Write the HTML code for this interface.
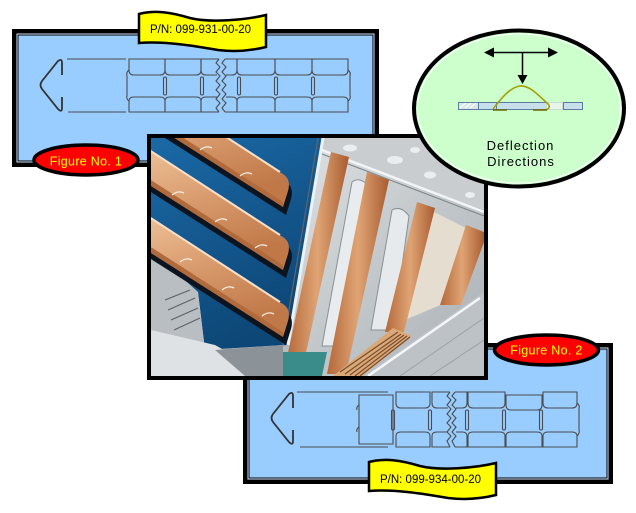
<!DOCTYPE html>
<html><head><meta charset="utf-8">
<style>
html,body{margin:0;padding:0;background:#fff;}
svg{display:block;}
text{font-family:"Liberation Sans",Arial,sans-serif;}
</style></head>
<body>
<svg width="636" height="513" viewBox="0 0 636 513" xmlns="http://www.w3.org/2000/svg">
<defs>
  <linearGradient id="blueg" x1="0" y1="0" x2="0.4" y2="1">
    <stop offset="0" stop-color="#1b69a6"/>
    <stop offset="1" stop-color="#0d4777"/>
  </linearGradient>
  <linearGradient id="silv" x1="0" y1="0" x2="1" y2="1">
    <stop offset="0" stop-color="#dfe3e5"/>
    <stop offset="0.5" stop-color="#c3c8cb"/>
    <stop offset="1" stop-color="#a9b0b4"/>
  </linearGradient>
  <linearGradient id="copS" x1="0" y1="0" x2="0.35" y2="1">
    <stop offset="0" stop-color="#f0c49c"/>
    <stop offset="0.5" stop-color="#d99c6e"/>
    <stop offset="1" stop-color="#c07848"/>
  </linearGradient>
  <linearGradient id="copB" x1="0" y1="0" x2="1" y2="0">
    <stop offset="0" stop-color="#b4683a"/>
    <stop offset="0.5" stop-color="#e0a474"/>
    <stop offset="1" stop-color="#a85c30"/>
  </linearGradient>
  <clipPath id="pc"><rect x="151" y="138" width="333" height="238"/></clipPath>
</defs>

<!-- ========== TOP PANEL ========== -->
<rect x="12" y="29" width="367" height="138" fill="#000"/>
<rect x="16.5" y="33.5" width="358" height="129" fill="#d2e8ff"/>
<rect x="18" y="35" width="355" height="126" fill="#99ccff" stroke="#000" stroke-width="1"/>

<g fill="none" stroke="#4c4c4c" stroke-width="1.1">
  <path d="M62,75 L62,63 Q62,58 58,61 L42,81 Q39,85 42,89 L58,109 Q62,113 62,108 L62,97" stroke="#333" stroke-width="1.8"/>
  <path d="M67,59 H126 M68,112 H126"/>
  <path d="M129,59 H165 V70 Q165,75 160,75 H134 Q129,75 129,70 Z M129,112 H165 V101 Q165,97 160,97 H134 Q129,97 129,101 Z"/>
  <path d="M165,59 H201 V70 Q201,75 196,75 H170 Q165,75 165,70 Z M165,112 H201 V101 Q201,97 196,97 H170 Q165,97 165,101 Z"/>
  <path d="M219,59 H201 V70 Q201,75 206,75 H217 M219,112 H201 V101 Q201,97 206,97 H217"/>
  <path d="M219,59 L216,63 L220,67 L216,72 L220,76 L216,81 L220,85 L216,90 L220,94 L216,99 L220,103 L216,108 L219,112"/>
  <path d="M225,59 L222,63 L226,67 L222,72 L226,76 L222,81 L226,85 L222,90 L226,94 L222,99 L226,103 L222,108 L225,112"/>
  <path d="M225,59 H237 V70 Q237,75 232,75 H226 M225,112 H237 V101 Q237,97 232,97 H226"/>
  <path d="M237,59 H275 V70 Q275,75 270,75 H242 Q237,75 237,70 Z M237,112 H275 V101 Q275,97 270,97 H242 Q237,97 237,101 Z"/>
  <path d="M275,59 H312 V70 Q312,75 307,75 H280 Q275,75 275,70 Z M275,112 H312 V101 Q312,97 307,97 H280 Q275,97 275,101 Z"/>
  <path d="M312,59 H348 V70 Q348,75 343,75 H317 Q312,75 312,70 Z M312,112 H348 V101 Q348,97 343,97 H317 Q312,97 312,101 Z"/>
  <path d="M129,70 Q126,72 127,76 V95 Q126,99 129,101"/>
  <path d="M348,70 Q351,72 350,76 V95 Q351,99 348,101"/>
  <rect x="163.5" y="77" width="3" height="18" rx="1.5"/>
  <rect x="200.5" y="77" width="3" height="18" rx="1.5"/>
  <rect x="237.5" y="77" width="3" height="18" rx="1.5"/>
  <rect x="274.5" y="77" width="3" height="18" rx="1.5"/>
  <rect x="311.5" y="77" width="3" height="18" rx="1.5"/>
</g>

<!-- top banner -->
<path d="M139,14 C155,10 170,12 190,18 C210,23 245,20 266,15 L266,47 C250,51 235,52 218,50 C195,46 165,41 139,43 Z" fill="#ffff00" stroke="#000" stroke-width="2.5"/>
<text x="200.5" y="33" font-size="11.5" text-anchor="middle" fill="#000">P/N: 099-931-00-20</text>

<!-- Figure No. 1 -->
<ellipse cx="86" cy="160" rx="52" ry="15" fill="#ff0000" stroke="#000" stroke-width="3.5"/>
<text x="86" y="165.5" font-size="12.5" text-anchor="middle" fill="#ffff00" letter-spacing="0.3">Figure No. 1</text>

<!-- ========== BOTTOM PANEL ========== -->
<rect x="243" y="343" width="370" height="141" fill="#000"/>
<rect x="247.5" y="347.5" width="361" height="132" fill="#d2e8ff"/>
<rect x="249" y="349" width="358" height="129" fill="#99ccff" stroke="#000" stroke-width="1"/>

<g transform="translate(231,333)" fill="none" stroke="#4c4c4c" stroke-width="1.1">
  <path d="M62,75 L62,63 Q62,58 58,61 L42,81 Q39,85 42,89 L58,109 Q62,113 62,108 L62,97" stroke="#333" stroke-width="1.8"/>
  <path d="M66,59 H157 M69,114 H157"/>
  <path d="M128,62 H162 V111 H128 Z"/>
  <path d="M128,72 Q125,74 126,77 M128,94 Q125,96 126,99"/>
  <path d="M165,59 H199 V70 Q199,75 194,75 H170 Q165,75 165,70 Z M165,114 H199 V103 Q199,99 194,99 H170 Q165,99 165,103 Z"/>
  <path d="M219,59 H201 V70 Q201,75 206,75 H217 M219,114 H201 V103 Q201,99 206,99 H217"/>
  <path d="M219,59 L216,63 L220,67 L216,72 L220,76 L216,81 L220,85 L216,90 L220,94 L216,99 L220,103 L216,108 L219,114"/>
  <path d="M224,59 L221,63 L225,67 L221,72 L225,76 L221,81 L225,85 L221,90 L225,94 L221,99 L225,103 L221,108 L224,114"/>
  <path d="M224,59 H236 V70 Q236,75 231,75 H225 M224,114 H236 V103 Q236,99 231,99 H225"/>
  <path d="M237,59 H274 V70 Q274,75 269,75 H242 Q237,75 237,70 Z M237,114 H274 V103 Q274,99 269,99 H242 Q237,99 237,103 Z"/>
  <path d="M275,62 H311 V72 Q311,77 306,77 H280 Q275,77 275,72 Z M275,114 H311 V103 Q311,99 306,99 H280 Q275,99 275,103 Z"/>
  <path d="M312,59 H346 V70 Q346,75 341,75 H317 Q312,75 312,70 Z M312,114 H346 V103 Q346,99 341,99 H317 Q312,99 312,103 Z"/>
  <path d="M346,70 Q349,72 348,76 V97 Q349,100 346,103"/>
  <rect x="160.5" y="77" width="3" height="20" rx="1.5"/>
  <rect x="197.5" y="77" width="3" height="20" rx="1.5"/>
  <rect x="234.5" y="77" width="3" height="20" rx="1.5"/>
  <rect x="271.5" y="77" width="3" height="20" rx="1.5"/>
  <rect x="308.5" y="77" width="3" height="20" rx="1.5"/>
</g>

<!-- Figure No. 2 -->
<ellipse cx="546.5" cy="350" rx="52" ry="15" fill="#ff0000" stroke="#000" stroke-width="3.5"/>
<text x="546.5" y="354.5" font-size="12.5" text-anchor="middle" fill="#ffff00" letter-spacing="0.3">Figure No. 2</text>

<!-- ========== PHOTO ========== -->
<rect x="147" y="134" width="341" height="246" fill="#000"/>
<g clip-path="url(#pc)">
  <rect x="151" y="138" width="333" height="238" fill="#b4babe"/>
  <polygon points="322,138 484,138 484,376 285,376 290,340" fill="url(#silv)"/>
  <polygon points="322,138 484,138 484,210 380,172 320,150" fill="#c9cdd0"/>
  <g fill="#f4f6f7" opacity="0.8">
    <ellipse cx="350" cy="148" rx="7" ry="3.5"/><ellipse cx="395" cy="160" rx="8" ry="4"/>
    <ellipse cx="430" cy="175" rx="6" ry="3.5"/><ellipse cx="458" cy="168" rx="7" ry="4"/>
    <ellipse cx="470" cy="195" rx="5" ry="3"/><ellipse cx="415" cy="150" rx="5" ry="3"/>
  </g>
  <path d="M322,150 L484,212" stroke="#f2f4f5" stroke-width="2.5"/>
  <path d="M322,154 L484,216" stroke="#7c8488" stroke-width="1"/>
  <path d="M352,182 Q360,176 368,186 L341,346 L322,346 Z" fill="#e8ecee" stroke="#8a9094" stroke-width="1"/>
  <path d="M392,210 Q401,205 409,216 L393,330 L371,330 Z" fill="#e6eaec" stroke="#8a9094" stroke-width="1"/>
  <polygon points="434,212 466,228 445,303 405,320" fill="#e4ddd0"/>
  <polygon points="331,152 349,157 304,362 286,362" fill="url(#copB)"/>
  <polygon points="367,172 389,180 346,374 327,374" fill="url(#copB)"/>
  <polygon points="417,202 435,208 404,332 385,332" fill="url(#copB)"/>
  <polygon points="466,225 484,232 484,242 461,305 440,305" fill="url(#copB)"/>
  <polygon points="362,376 484,292 484,376" fill="#bcc2c6"/>
  <path d="M368,376 L480,298" stroke="#f4f6f7" stroke-width="2.5"/>
  <path d="M400,376 L484,318 M430,376 L484,340" stroke="#9aa2a6" stroke-width="1"/>
  <polygon points="333,376 393,328 412,336 362,376" fill="#d9a978"/>
  <g stroke="#7a4c2c" stroke-width="1.2">
    <path d="M340,372 L398,332 M345,374 L401,334 M350,375 L404,335 M355,376 L407,336 M360,376 L410,337"/>
  </g>
  <polygon points="283,352 327,352 322,376 283,376" fill="#3a8c8a"/>
  <polygon points="151,138 323,138 288,345 205,350 198,292 151,250" fill="url(#blueg)"/>
  <path d="M323,138 L288,345" stroke="#eef1f2" stroke-width="3"/>
  <path d="M318,138 L283,345" stroke="#5e666a" stroke-width="1.2"/>
  <polygon points="151,250 198,292 205,350 283,345 283,376 151,376" fill="#b9bec2"/>
  <polygon points="151,330 215,345 270,376 151,376" fill="#dfe2e4"/>
  <polygon points="215,350 283,345 283,376 245,376" fill="#8c9398"/>
  <g stroke="#5c6266" stroke-width="1.2">
    <path d="M165,300 L190,290 M168,310 L195,298 M171,320 L198,308 M174,330 L200,318"/>
  </g>
  <!-- copper strips -->
  <path d="M143,89 L282,180 Q295,185 291,199 L286,215 L143,124 Z" fill="#0c1420"/>
  <path d="M140,81 L279,172 Q292,177 288,191 L283,207 L140,116 Z" fill="url(#copS)"/>
  <path d="M140,81 L280,172" stroke="#f8e0c8" stroke-width="2"/>
  <path d="M140,110 L283,202 L283,207 L140,116 Z" fill="#b06a3c"/>

  <path d="M143,152 L282,243 Q295,248 291,262 L286,278 L143,187 Z" fill="#0c1420"/>
  <path d="M140,144 L279,235 Q292,240 288,254 L283,270 L140,179 Z" fill="url(#copS)"/>
  <path d="M140,144 L280,235" stroke="#f8e0c8" stroke-width="2"/>
  <path d="M140,173 L283,265 L283,270 L140,179 Z" fill="#b06a3c"/>

  <path d="M143,219 L282,310 Q295,315 291,329 L286,345 L143,254 Z" fill="#0c1420"/>
  <path d="M140,211 L279,302 Q292,307 288,321 L283,337 L140,246 Z" fill="url(#copS)"/>
  <path d="M140,211 L280,302" stroke="#f8e0c8" stroke-width="2"/>
  <path d="M140,240 L283,332 L283,337 L140,246 Z" fill="#b06a3c"/>
  <g fill="none" stroke="#fbeee0" stroke-width="1.3">
    <path d="M200,150 q6,-5 12,-2 M240,176 q6,-5 12,-2 M172,195 q6,-5 12,-2 M215,222 q6,-5 12,-2 M255,248 q6,-5 12,-2 M180,262 q6,-5 12,-2 M222,290 q6,-5 12,-2 M262,316 q6,-5 12,-2"/>
  </g>
</g>

<!-- ========== DEFLECTION CIRCLE ========== -->
<ellipse cx="519" cy="108.5" rx="105" ry="78" fill="#ccffcc" stroke="#000" stroke-width="4"/>
<ellipse cx="519" cy="108.5" rx="101.5" ry="74.5" fill="none" stroke="#ffffff" stroke-width="1"/>
<line x1="493" y1="52.5" x2="549" y2="52.5" stroke="#000" stroke-width="1.5"/>
<polygon points="484,52.5 494,47.5 494,57.5" fill="#000"/>
<polygon points="558,52.5 548,47.5 548,57.5" fill="#000"/>
<line x1="522.5" y1="52.5" x2="522.5" y2="76" stroke="#000" stroke-width="1.5"/>
<polygon points="522.5,84 517.5,75 527.5,75" fill="#000"/>
<g stroke="#5a7ca0" stroke-width="1">
  <rect x="458.5" y="102.5" width="20" height="7" fill="#d8e8e4"/>
  <rect x="478.5" y="102.5" width="18" height="7" fill="#c6e0ec"/>
  <rect x="496.5" y="102.5" width="50" height="7" fill="#c6e0ec"/>
  <rect x="546.5" y="102.5" width="16" height="7" fill="#e8f6ea" stroke="#c8dcd0"/>
  <rect x="563.5" y="102.5" width="19" height="7" fill="#c6e0ec"/>
</g>
<path d="M460,108 L466,103 M465,108 L471,103 M470,108 L476,103" stroke="#ffffff" stroke-width="1"/>
<path d="M493,109 C500,100 510,87 520,86 C530,85 540,97 547,103 Q552,107 546,110" fill="none" stroke="#a0a000" stroke-width="1.6"/>
<path d="M493,110 H507 M533,110 H547" stroke="#6a6a00" stroke-width="1.6"/>
<text x="520.5" y="150" font-size="13" text-anchor="middle" fill="#000" letter-spacing="1">Deflection</text>
<text x="521" y="166" font-size="13" text-anchor="middle" fill="#000" letter-spacing="1">Directions</text>

<!-- bottom banner -->
<g transform="translate(230,448)">
<path d="M139,14 C155,10 170,12 190,18 C210,23 245,20 266,15 L266,47 C250,51 235,52 218,50 C195,46 165,41 139,43 Z" fill="#ffff00" stroke="#000" stroke-width="2.5"/>
</g>
<text x="430.5" y="483" font-size="11.5" text-anchor="middle" fill="#000">P/N: 099-934-00-20</text>
</svg>
</body></html>
